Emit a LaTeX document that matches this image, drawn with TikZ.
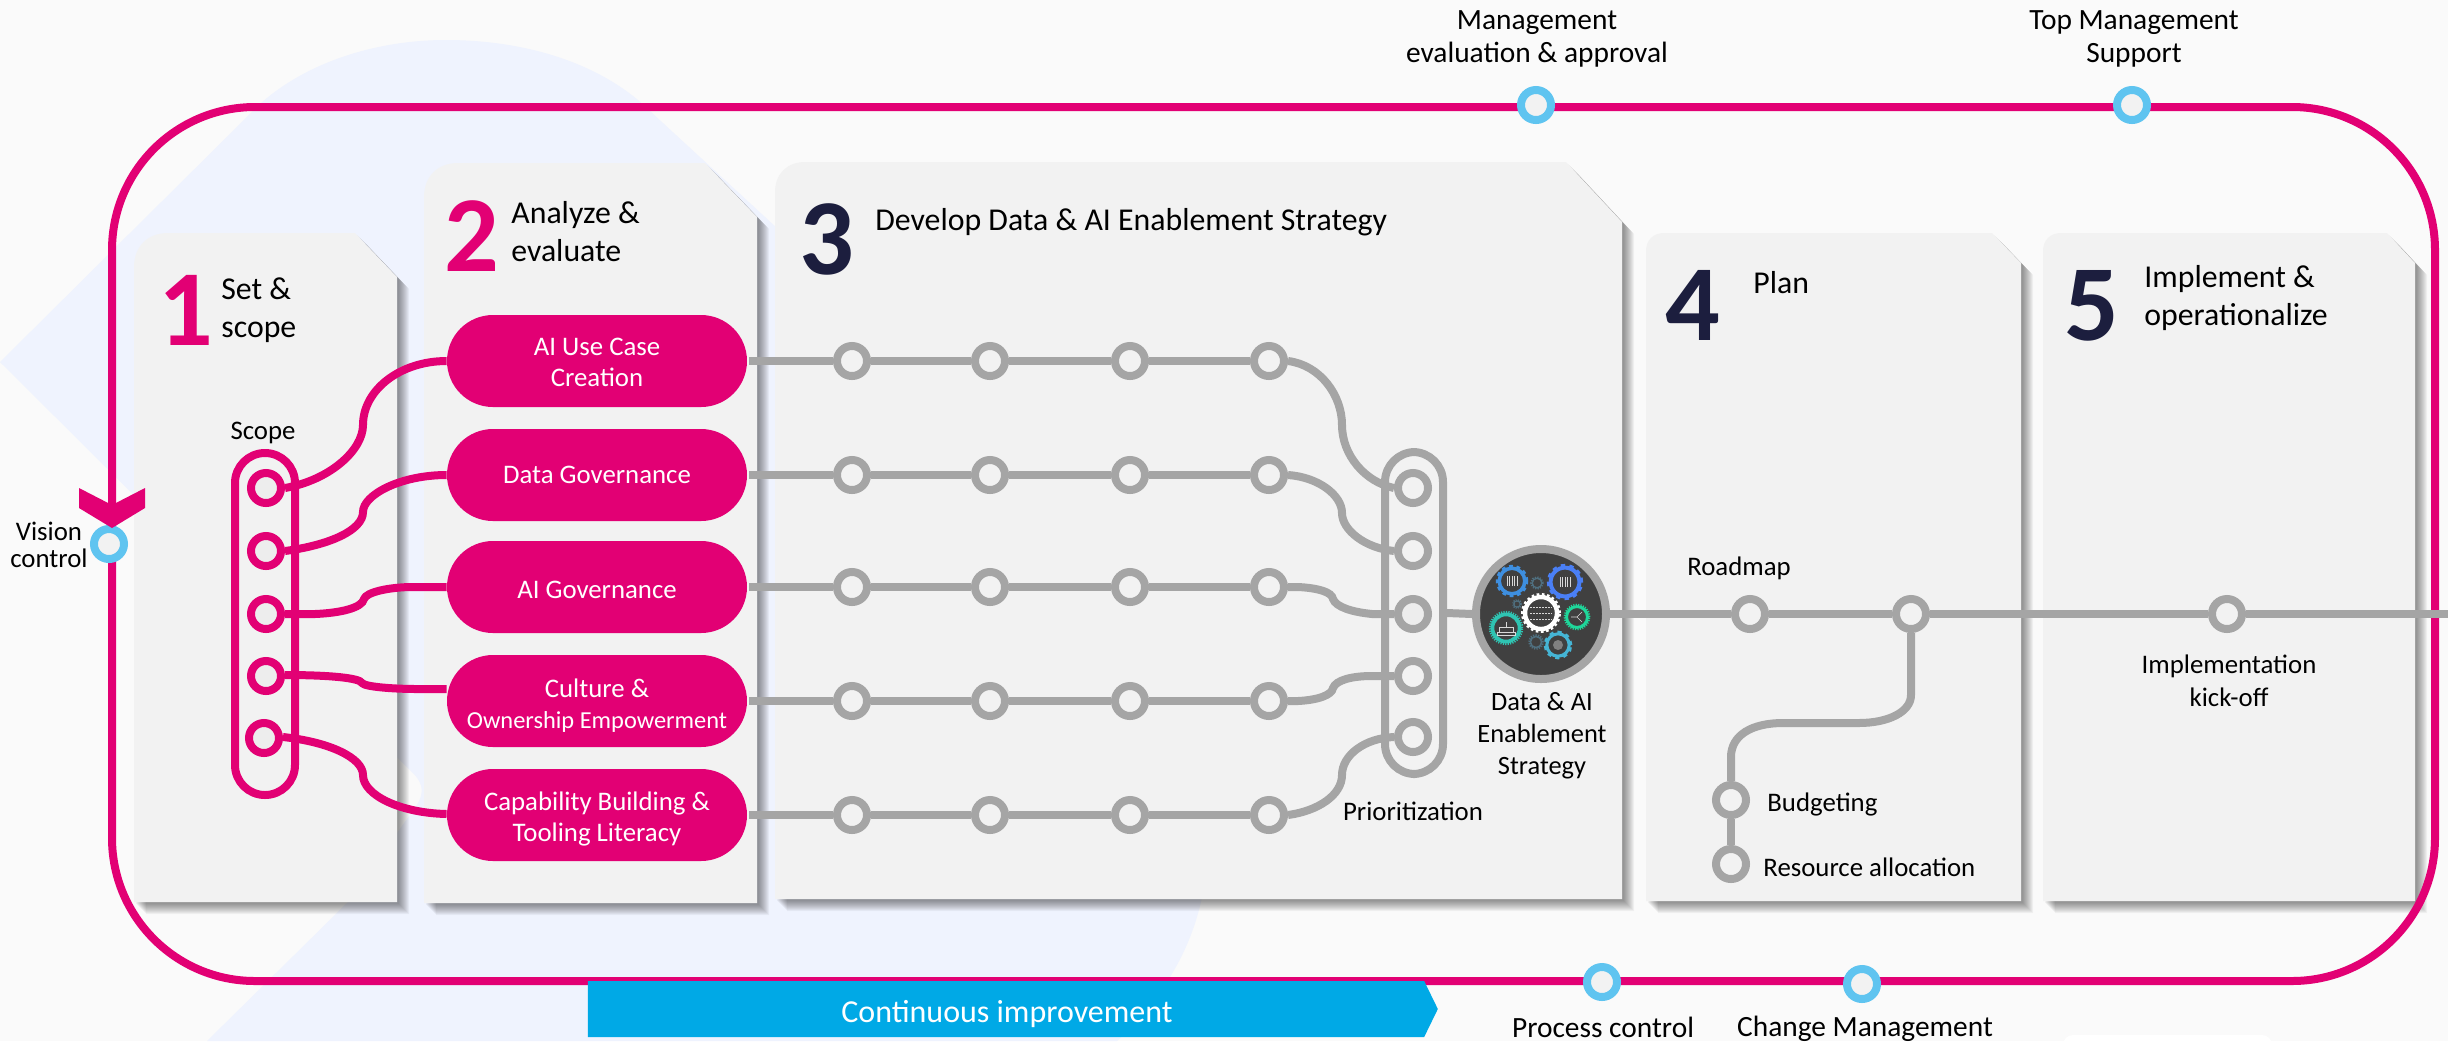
\documentclass[tikz,border=0pt]{standalone}
\usepackage{fontspec}
\setmainfont{Carlito}
\usetikzlibrary{shapes.arrows}
\definecolor{pagebg}{HTML}{FAFAFA}
\definecolor{paleblue}{HTML}{EFF3FE}
\definecolor{panelfill}{HTML}{F2F2F2}
\definecolor{magenta}{HTML}{E20074}
\definecolor{railgrey}{HTML}{A5A5A5}
\definecolor{skyring}{HTML}{5FC4F0}
\definecolor{navy}{HTML}{1C1E3E}
\definecolor{arrowblue}{HTML}{00A9E6}
\definecolor{hubdark}{HTML}{404040}
\definecolor{gearA}{HTML}{3E8FE0}
\definecolor{gearB}{HTML}{4A7FF5}
\definecolor{gearC}{HTML}{1FD69A}
\definecolor{gearD}{HTML}{2FC4B2}
\definecolor{gearE}{HTML}{45B5D5}
\definecolor{gearF}{HTML}{4F6F7F}
\newcommand\fsz[2]{\fontsize{#1}{#2}\selectfont}
\newcommand\padtop[1]{\rule{0pt}{#1pt}}
\newcommand\panelshape[7]{% left top cutx right cuty bottom radius
  (#1,#6) -- (#1,#2+#7) .. controls (#1,#2+#7*0.4) and (#1+#7*0.4,#2) .. (#1+#7,#2)
  -- (#3,#2) -- (#4,#5) -- (#4,#6) -- cycle}
\newcommand\panelbox[7]{%
  \foreach \k in {12,11,...,2}{
    \fill[black,opacity=.042,shift={(\k,\k)}] \panelshape{#1}{#2}{#3}{#4}{#5}{#6}{#7};
  }
  \fill[panelfill] \panelshape{#1}{#2}{#3}{#4}{#5}{#6}{#7};
}
\newcommand\hubgear[5]{%
  \draw[#4,line width=#3*0.11pt] (#1,#2) circle[radius=#3*0.40pt];
  \draw[#4,line width=1.2pt,dash pattern=on #5pt off #5pt] (#1,#2) circle[radius=#3*0.47pt];
}
\tikzset{
  x=0.5pt,y=-0.5pt,
  pill/.style={rectangle,rounded corners=23pt,fill=magenta,text=white,minimum width=150pt,minimum height=46pt,inner sep=0pt,align=center,font=\fsz{13.4}{15.5}\selectfont},
  pinkring/.style={circle,draw=magenta,line width=4pt,fill=#1,minimum size=15pt,inner sep=0pt},
  pinkring/.default=black!7,
  greyring/.style={circle,draw=railgrey,line width=4pt,fill=#1,minimum size=15pt,inner sep=0pt},
  greyring/.default=panelfill,
  skynode/.style={circle,draw=skyring,line width=4pt,fill=panelfill,minimum size=15pt,inner sep=0pt},
  magline/.style={draw=magenta,line width=4pt},
  greyline/.style={draw=railgrey,line width=4pt},
  capsule/.style={rectangle,rounded corners=15pt,line width=4pt,fill=none,inner sep=0pt},
  lbl/.style={inner sep=0pt,align=center,text=black,font=\fsz{13.4}{16.4}\selectfont},
  bigl/.style={inner sep=0pt,align=center,text=black,font=\fsz{14.7}{16.5}\selectfont},
  title/.style={inner sep=0pt,anchor=west,align=left,text=black,font=\fsz{15.9}{19}\selectfont},
  digit/.style={inner sep=0pt,font=\fsz{54}{54}\selectfont\bfseries},
}
\begin{document}
\begin{tikzpicture}
\useasboundingbox (0,0) rectangle (2448,1041);
\fill[pagebg] (0,0) rectangle (2448,1041);
% background shape
\fill[paleblue] (0,362) -- (261,103) .. controls (310,60) and (380,40) .. (446,40)
  .. controls (520,40) and (590,60) .. (638,100) -- (790,240) -- (1205,880)
  .. controls (1195,950) and (1160,1000) .. (1117,1041) -- (207,1041) -- (348,902) -- (412,812)
  .. controls (425,795) and (425,785) .. (412,772) -- cycle;
\fill[white,rounded corners=5pt] (2063,1060) -- (2063,1035) -- (2272,1035) -- (2272,1060) -- cycle;
% panels
\panelbox{134}{233}{355}{397}{277}{902}{34}
\panelbox{424}{163}{705}{757}{217}{903}{34}
\panelbox{775}{162}{1566}{1622}{222}{899}{30}
\panelbox{1646}{233}{1992}{2021}{263}{901}{18}
\panelbox{2043}{233}{2387}{2415}{263}{901}{18}
% frame
\draw[magenta,line width=4pt,rounded corners=71.5pt] (112,107) rectangle (2435,981);
% panel titles
\node[digit,text=magenta] (d1) at (186,310) {1};
\node[title] (t1) at (221,310) {Set \&\\scope};
\node[digit,text=magenta] (d2) at (472,236) {2};
\node[title] (t2) at (511,232) {Analyze \&\\evaluate};
\node[digit,text=navy] (d3) at (827,239) {3};
\node[title] (t3) at (875,222) {Develop Data \& AI Enablement Strategy};
\node[digit,text=navy] (d4) at (1693,305) {4};
\node[title] (t4) at (1753,283) {Plan};
\node[digit,text=navy] (d5) at (2092,306) {5};
\node[title] (t5) at (2144,298) {Implement \&\\operationalize};
% pills
\node[pill] (p1) at (597,361) {\padtop{10.5}AI Use Case\\Creation};
\node[pill] (p2) at (597,475) {Data Governance};
\node[pill] (p3) at (597,587) {\padtop{12}AI Governance};
\node[pill] (p4) at (597,701) {\padtop{13.5}Culture \&\\\fsz{12.2}{15.5}\selectfont Ownership Empowerment};
\node[pill] (p5) at (597,815) {\padtop{13}Capability Building \&\\Tooling Literacy};
% scope
\node[lbl] (scopelabel) at (263,433) {Scope};
\node[capsule,draw=magenta,minimum width=30pt,minimum height=171pt] (scopebox) at (265,624) {};
\node[pinkring] (s1) at (266,488) {};
\node[pinkring] (s2) at (266,551) {};
\node[pinkring] (s3) at (266,614) {};
\node[pinkring] (s4) at (266,676) {};
\node[pinkring] (s5) at (264,738) {};
\draw[magline] (s1.east) .. controls (330,480) and (363,450) .. (363,425) .. controls (363,390) and (400,361) .. (p1.west);
\draw[magline] (s2.east) .. controls (330,545) and (363,530) .. (363,512) .. controls (363,495) and (400,475) .. (p2.west);
\draw[magline] (s3.east) -- (315,614) .. controls (340,613) and (362,608) .. (364,599) .. controls (366,592) and (390,587) .. (413,587) -- (p3.west);
\draw[magline] ([yshift=0.5pt]s4.east) .. controls (330,675) and (360,678) .. (362,683) .. controls (365,687) and (395,689) .. (417,689) -- ([yshift=6pt]p4.west);
\draw[magline] ([yshift=0.5pt]s5.east) .. controls (330,742) and (363,758) .. (363,775) .. controls (363,795) and (400,813) .. ([yshift=0.5pt]p5.west);
% rails of step 3
\foreach \row/\yy in {1/361,2/475,3/587,4/701,5/815}{
  \node[greyring] (r\row a) at (852,\yy) {};
  \node[greyring] (r\row b) at (990,\yy) {};
  \node[greyring] (r\row c) at (1130,\yy) {};
  \node[greyring] (r\row d) at (1269,\yy) {};
  \draw[greyline] ([xshift=1pt]p\row.east) -- (r\row a.west);
  \draw[greyline] (r\row a.east) -- (r\row b.west);
  \draw[greyline] (r\row b.east) -- (r\row c.west);
  \draw[greyline] (r\row c.east) -- (r\row d.west);
}
% prioritization
\node[capsule,draw=railgrey,minimum width=29pt,minimum height=161pt] (priobox) at (1414,613) {};
\node[greyring] (q1) at (1413,488) {};
\node[greyring] (q2) at (1413,551) {};
\node[greyring=black!7] (q3) at (1413,614) {};
\node[greyring] (q4) at (1413,676) {};
\node[greyring] (q5) at (1413,737) {};
\draw[greyline] (r1d.east) .. controls (1320,365) and (1342,395) .. (1342,425) .. controls (1342,455) and (1365,482) .. (q1.west);
\draw[greyline] (r2d.east) .. controls (1318,477) and (1342,495) .. (1342,513) .. controls (1342,530) and (1365,548) .. (q2.west);
\draw[greyline] (r3d.east) -- (1298,587) .. controls (1318,588) and (1332,592) .. (1333,599) .. controls (1336,607) and (1352,612) .. (1372,614) -- (q3.west);
\draw[greyline] (r4d.east) -- (1298,701) .. controls (1318,700) and (1332,695) .. (1333,688) .. controls (1336,680) and (1352,676) .. (1372,676) -- (q4.west);
\draw[greyline] (r5d.east) .. controls (1318,811) and (1342,795) .. (1342,775) .. controls (1342,755) and (1365,738) .. (q5.west);
\node[lbl] (priolabel) at (1413,811) {Prioritization};
% hub
\node[circle,draw=railgrey,line width=4pt,fill=hubdark,minimum size=65pt,inner sep=0pt] (hub) at (1541,614) {};
\draw[greyline] (priobox.east) -- (hub.west);
\hubgear{1512}{581}{16}{gearA}{1.9}
\hubgear{1565}{582}{18}{gearB}{2.2}
\hubgear{1541}{613}{20}{white}{1.3}
\hubgear{1577}{617}{13}{gearC}{.6}
\hubgear{1506}{628}{17}{gearD}{.6}
\hubgear{1558}{645}{14}{gearE}{2.1}
\hubgear{1537}{583}{6}{gearF}{.6}
\hubgear{1517}{604}{4}{gearF}{.5}
\hubgear{1536}{642}{7}{gearF}{.6}
\foreach \dx in {-5,-2.5,0,2.5,5}{
  \draw[white!85!black,line width=.25pt] (1512+\dx,576) -- (1512+\dx,586);
  \draw[white!85!black,line width=.25pt] (1565+\dx,577) -- (1565+\dx,587);
}
\foreach \dy in {-6,0,6}{\draw[white!85!black,line width=.5pt,dash pattern=on 1pt off .5pt] (1530,613+\dy) -- (1552,613+\dy);}
\draw[white!85!black,line width=.25pt] (1506,622) -- (1506,627) (1499,632) -- (1499,627) -- (1513,627) -- (1513,632) (1497,632) rectangle (1515,635);
\draw[white!85!black,line width=.3pt] (1571,617) -- (1577,617) -- (1582,612) (1577,617) -- (1582,622);
\fill[gray] (1558,645) circle[radius=2.5pt];
\node[lbl,font=\fsz{13.2}{16}\selectfont] (hublabel) at (1542,736) {Data \& AI\\Enablement\\Strategy};
% plan and implement
\node[greyring] (m1) at (1750,614) {};
\node[greyring] (m2) at (1911,614) {};
\node[greyring] (m3) at (2227,614) {};
\coordinate (railend) at (2448,614);
\draw[greyline] (hub.east) -- (m1.west);
\draw[greyline] (m1.east) -- (m2.west);
\draw[greyline] (m2.east) -- (m3.west);
\draw[greyline] (m3.east) -- (railend);
\node[greyring] (b1) at (1731,800) {};
\node[greyring] (b2) at (1731,864) {};
\draw[greyline] (m2.south) -- (1911,695) .. controls (1911,712) and (1888,723) .. (1859,723) -- (1783,723) .. controls (1752,723) and (1731,735) .. (1731,757) -- (b1.north);
\draw[greyline] (b1.south) -- (b2.north);
\node[lbl] (l1) at (1739,568) {Roadmap};
\node[lbl,anchor=west] (l2) at (1767,804) {Budgeting};
\node[lbl,anchor=west] (l3) at (1763,867) {Resource allocation};
\node[lbl] (l4) at (2229,681) {Implementation\\kick-off};
% frame markers
\node[skynode] (v) at (109,544) {};
\fill[magenta] (79,488) -- (112,505) -- (145,488) -- (145,508) -- (112,528) -- (79,508) -- cycle;
\node[lbl,font=\fsz{13.4}{13.5}\selectfont] (vl) at (49,545) {Vision\\control};
\node[skynode] (f1) at (1536,105) {};
\node[skynode] (f2) at (2132,105) {};
\node[bigl] (fl1) at (1537,39) {Management\\evaluation \& approval};
\node[bigl] (fl2) at (2134,39) {Top Management\\Support};
\node[single arrow,single arrow head extend=0pt,single arrow tip angle=128,fill=arrowblue,minimum height=425pt,minimum width=28pt,inner sep=0pt,shape border rotate=0] (ci) at (1006,1009) {};
\node[inner sep=0pt,text=white,font=\fsz{16}{18}\selectfont] (cit) at (1007,1014) {Continuous improvement};
\node[skynode] (f3) at (1602,982) {};
\node[skynode] (f4) at (1862,984) {};
\node[bigl] (fl3) at (1603,1027) {Process control};
\node[bigl] (fl4) at (1865,1029) {Change Management};
\end{tikzpicture}
\end{document}
